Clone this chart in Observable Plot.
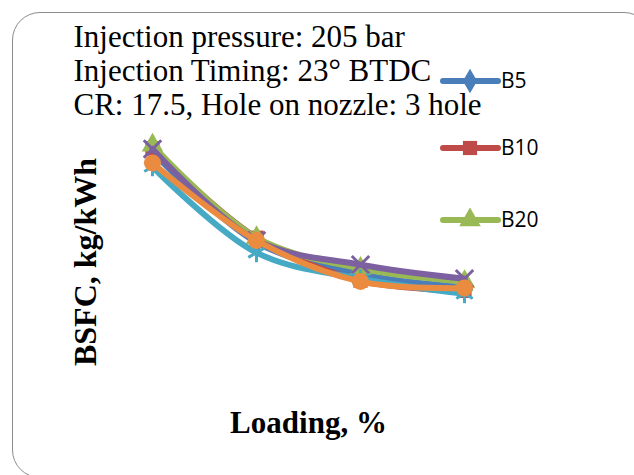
<!DOCTYPE html>
<html><head><meta charset="utf-8">
<script src="https://cdn.jsdelivr.net/npm/d3@7"></script>
<script src="https://cdn.jsdelivr.net/npm/@observablehq/plot@0.6"></script>
<style>
html,body{margin:0;padding:0;background:#fff;}
#wrap{position:relative;width:634px;height:475px;overflow:hidden;background:#fff;}
#frame{position:absolute;left:12px;top:12px;width:640px;height:466px;border:1.5px solid #8c8c8c;border-radius:28px;box-sizing:border-box;}
#chart{position:absolute;left:0;top:0;}
#legend{position:absolute;left:0;top:0;}
</style></head><body>
<div id="wrap"><div id="frame"></div><div id="chart"></div><svg id="legend" width="634" height="475"></svg></div>
<script>
const loading = [25, 50, 75, 100];
const seriesNames = ["B5", "B10", "B20", "B30", "B40", "B100"];
const b5   = [0.445, 0.348, 0.314, 0.300];
const b10  = [0.449, 0.353, 0.307, 0.296];
const b20  = [0.452, 0.353, 0.320, 0.306];
const b30  = [0.448, 0.350, 0.324, 0.309];
const b40  = [0.429, 0.337, 0.309, 0.293];
const b100 = [0.433, 0.350, 0.306, 0.299];
const legendNames = ["B5", "B10", "B20"];
const annotationLines = ["Injection pressure: 205 bar", "Injection Timing: 23\u00b0 BTDC", "CR: 17.5, Hole on nozzle: 3 hole"];
const xTitle = "Loading, %";
const yTitle = "BSFC, kg/kWh";

const values = [b5, b10, b20, b30, b40, b100];
const styles = {
  B5:   {color: "#4A7EBB", symbol: "diamond", r: 7.5, filled: true},
  B10:  {color: "#BE4B48", symbol: "square", r: 8, filled: true},
  B20:  {color: "#98B954", symbol: "triangle", r: 8, filled: true},
  B30:  {color: "#7D60A0", symbol: "times", r: 8, filled: false},
  B40:  {color: "#46AAC5", symbol: "asterisk", r: 9, filled: false},
  B100: {color: "#EB8B3F", symbol: "circle", r: 8.5, filled: true}
};

const table = seriesNames.flatMap((s, i) => loading.map((l, j) => ({series: s, loading: l, bsfc: values[i][j]})));

const marks = [];
seriesNames.forEach(s => {
  const st = styles[s];
  const d = table.filter(r => r.series === s);
  marks.push(Plot.line(d, {x: "loading", y: "bsfc", stroke: st.color, strokeWidth: 6, curve: "catmull-rom", strokeLinejoin: "round", strokeLinecap: "round"}));
  marks.push(Plot.dot(d, {x: "loading", y: "bsfc", symbol: st.symbol, r: st.r,
    fill: st.filled ? st.color : "none", stroke: st.filled ? "none" : st.color, strokeWidth: st.filled ? 0 : 3}));
});
marks.push(Plot.text([annotationLines.join("\n")], {text: d => d, frameAnchor: "top-left", textAnchor: "start", lineAnchor: "top",
  dx: -79, dy: -78, fontSize: 31, lineHeight: 1.1, fontFamily: "Liberation Serif", fill: "black"}));
marks.push(Plot.text([xTitle], {text: d => d, frameAnchor: "bottom", dy: 43, lineAnchor: "middle",
  fontSize: 31, fontWeight: "bold", fontFamily: "Liberation Serif", fill: "black"}));

const chart = Plot.plot({
  width: 634, height: 475,
  marginLeft: 152, marginRight: 170, marginTop: 100, marginBottom: 95,
  x: {domain: [25, 100], axis: null},
  y: {domain: [0.2, 0.5], axis: null},
  style: {background: "transparent", overflow: "visible"},
  marks
});
document.getElementById("chart").appendChild(chart);

const lg = d3.select("#legend");
// y-axis title
lg.append("text").attr("transform", "translate(85,262) rotate(-90)").attr("text-anchor", "middle").attr("dy", "0.35em")
  .attr("font-family", "Liberation Serif").attr("font-weight", "bold").attr("font-size", 32).attr("fill", "black").text(yTitle);
// legend
const legendY = [81, 148, 220];
legendNames.forEach((n, i) => {
  const st = styles[n];
  const g = lg.append("g").attr("transform", `translate(0,${legendY[i]})`);
  g.append("line").attr("x1", 443).attr("x2", 498).attr("y1", 0).attr("y2", 0)
    .attr("stroke", st.color).attr("stroke-width", 6).attr("stroke-linecap", "round");
  const sym = {diamond: d3.symbolDiamond, square: d3.symbolSquare, triangle: d3.symbolTriangle}[st.symbol];
  g.append("path").attr("d", d3.symbol(sym, Math.PI * st.r * st.r)()).attr("transform", "translate(470,0)").attr("fill", st.color);
  g.append("text").attr("x", 501).attr("y", 0).attr("dy", "0.35em").attr("font-family", "Open Sans")
    .attr("font-size", 21).attr("fill", "black").text(n);
});
</script>
</body></html>
